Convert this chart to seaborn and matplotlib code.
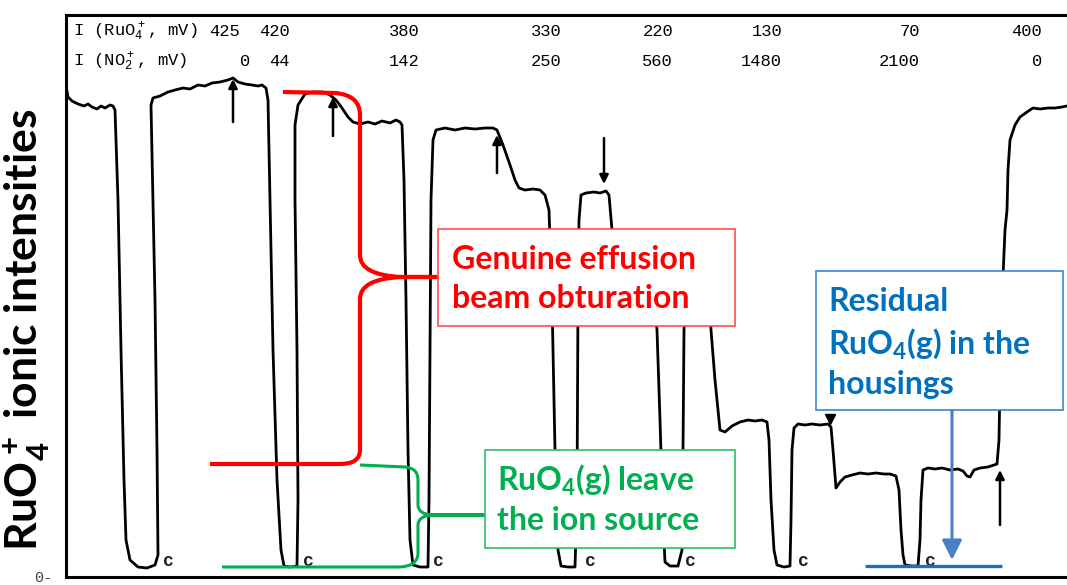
import numpy as np
import pandas as pd
import matplotlib
matplotlib.use("Agg")
import matplotlib.pyplot as plt
from matplotlib.patches import Rectangle, PathPatch
from matplotlib.path import Path
import seaborn as sns

# ---------------- data (time in chart units, intensity in arbitrary units) ----------------
time = [0, 2, 6, 12, 18, 22, 26, 31, 35, 39, 44, 47, 49, 52, 55, 58, 60, 64, 72, 81, 89, 92,
        91, 89, 86, 85, 87, 94, 102, 109, 117, 124, 132, 139, 146, 154, 162, 167, 172, 179, 186,
        192, 196, 200, 202, 204, 207, 211, 215, 218, 224, 231, 232, 231, 229, 229, 232, 239, 247,
        257, 264, 270, 276, 282, 287, 294, 302, 309, 316, 324, 330, 334, 336, 338, 340, 342, 344,
        347, 354, 362, 363, 364, 365, 367, 370, 379, 389, 399, 409, 419, 427, 431, 437, 444, 449,
        453, 459, 467, 474, 479, 483, 486, 489, 492, 495, 502, 509, 511, 512, 513, 515, 520, 528,
        534, 540, 543, 546, 549, 556, 574, 588, 591, 594, 597, 599, 604, 612, 616, 617, 618, 620,
        626, 636, 643, 645, 649, 654, 659, 666, 674, 682, 689, 696, 701, 703, 705, 708, 711, 718,
        724, 725, 726, 728, 732, 739, 746, 754, 762, 765, 767, 770, 774, 779, 786, 794, 802, 810,
        818, 824, 830, 833, 835, 837, 839, 846, 852, 854, 855, 857, 862, 869, 876, 884, 892, 897,
        901, 904, 908, 914, 922, 928, 931, 933, 934, 936, 939, 941, 942, 944, 949, 954, 961, 967,
        974, 982, 989, 996, 1001]
intensity = [492, 480, 476, 473, 471, 473, 470, 468, 471, 469, 472, 471, 467, 377, 227, 97, 37,
             17, 10, 9, 12, 22, 127, 277, 427, 472, 479, 481, 485, 487, 489, 488, 492, 491, 494,
             495, 497, 499, 495, 493, 492, 491, 492, 489, 477, 377, 227, 97, 27, 11, 10, 11, 77,
             227, 377, 452, 472, 483, 485, 485, 482, 477, 469, 460, 455, 453, 455, 453, 456, 454,
             457, 455, 452, 397, 277, 127, 37, 12, 10, 10, 77, 227, 377, 437, 447, 449, 447, 449,
             448, 449, 449, 447, 432, 412, 397, 389, 387, 388, 387, 382, 367, 277, 127, 27, 11,
             10, 10, 77, 277, 357, 382, 384, 385, 384, 386, 382, 347, 287, 279, 280, 277, 247,
             157, 57, 15, 11, 11, 27, 127, 247, 292, 302, 303, 299, 247, 197, 147, 145, 151, 155,
             157, 156, 157, 155, 137, 77, 27, 12, 10, 11, 57, 127, 149, 153, 152, 153, 152, 153,
             150, 127, 89, 95, 100, 102, 104, 103, 104, 103, 103, 101, 87, 47, 22, 12, 11, 11, 37,
             77, 107, 109, 108, 109, 107, 108, 106, 101, 100, 107, 109, 110, 112, 113, 137, 197,
             277, 347, 367, 407, 437, 452, 460, 465, 469, 468, 469, 469, 470, 471]

ruo4_mv = ["425", "420", "380", "330", "220", "130", "70", "400"]
no2_mv = ["0", "44", "142", "250", "560", "1480", "2100", "0"]
ruo4_label_t = [174, 224, 354, 496, 607, 717, 854, 976]   # right edge of each printed value
no2_label_t = [184, 224, 354, 496, 607, 716, 854, 976]

closure_t = [102, 242, 372, 524, 624, 737, 864]            # "c" marks (closures)
arrow_up = [(167, 455, 498), (267, 441, 480), (431, 404, 442), (934, 52, 107)]  # (t, tail, tip)
arrow_down = [(538, 439, 393)]
marker_down = [(764, 158)]

# ---------------- figure ----------------
sns.set_style("white")
plt.rcParams["font.family"] = ["Lato", "DejaVu Sans"]
plt.rcParams["mathtext.default"] = "regular"

fig = plt.figure(figsize=(10.67, 5.85), dpi=100)
ax = fig.add_axes([66 / 1067, 8 / 585, 1001 / 1067, 562 / 585])

df = pd.DataFrame({"time": time, "intensity": intensity})
sns.lineplot(data=df, x="time", y="intensity", sort=False, estimator=None,
             color="black", linewidth=2.0, ax=ax, zorder=2)

ax.set_xlim(0, 1001)
ax.set_ylim(0, 562)
ax.set_xticks([])
ax.set_yticks([0])
ax.set_yticklabels(["0-"], fontsize=11, color="#444444", family="Liberation Mono")
ax.tick_params(axis="y", length=0, pad=10)
ax.set_xlabel("")
ax.set_ylabel("RuO$_4^+$ ionic intensities", fontsize=32, fontweight="bold", color="black")
ax.yaxis.set_label_coords(-0.014, 0.44)
for side in ["left", "top", "bottom"]:
    ax.spines[side].set_visible(True)
    ax.spines[side].set_linewidth(2.2)
    ax.spines[side].set_color("black")
ax.spines["right"].set_visible(False)

# header texts
mono = dict(family="Liberation Mono", fontsize=12.3, color="#000000")
ax.text(7, 545, "I (RuO$_4^+$, mV)", ha="left", va="center", **mono)
ax.text(7, 515, "I (NO$_2^+$, mV)", ha="left", va="center", **mono)
for t, v in zip(ruo4_label_t, ruo4_mv):
    ax.text(t, 545, v, ha="right", va="center", **mono)
for t, v in zip(no2_label_t, no2_mv):
    ax.text(t, 515, v, ha="right", va="center", **mono)

# closure marks
for t in closure_t:
    ax.text(t, 15, "c", ha="center", va="center", family="Liberation Mono",
            fontsize=13, fontweight="bold", color="#222222")

# black arrows
for t, tail, tip in arrow_up + arrow_down:
    ax.annotate("", xy=(t, tip), xytext=(t, tail),
                arrowprops=dict(arrowstyle="-|>", color="black", lw=1.8,
                                mutation_scale=13, shrinkA=0, shrinkB=0), zorder=3)
for t, y in marker_down:
    ax.plot([t], [y], marker="v", color="black", markersize=7, zorder=3)

# red brace
red = "#ff0000"
verts = [(217, 485), (269, 484), (294, 482), (294, 462), (294, 322), (294, 302), (335, 300),
         (372, 300), (335, 300), (294, 298), (294, 278), (294, 127), (294, 113), (274, 113),
         (144, 113)]
codes = [Path.MOVETO, Path.LINETO, Path.CURVE3, Path.CURVE3, Path.LINETO, Path.CURVE3,
         Path.CURVE3, Path.LINETO, Path.LINETO, Path.CURVE3, Path.CURVE3, Path.LINETO,
         Path.CURVE3, Path.CURVE3, Path.LINETO]
ax.add_patch(PathPatch(Path(verts, codes), fill=False, edgecolor=red, lw=3.0, zorder=4,
                       capstyle="butt", joinstyle="round"))

# green brace
green = "#00b050"
verts = [(294, 112), (339, 110), (352, 109), (352, 97), (352, 72), (352, 63), (366, 62),
         (419, 62), (366, 62), (352, 61), (352, 52), (352, 24), (352, 11), (334, 10),
         (156, 10)]
ax.add_patch(PathPatch(Path(verts, codes), fill=False, edgecolor=green, lw=2.2, zorder=4,
                       capstyle="butt", joinstyle="round"))

# blue annotation
blue = "#0070c0"
ax.annotate("", xy=(886, 17), xytext=(886, 167),
            arrowprops=dict(arrowstyle="-|>", color="#4a7fc8", lw=2.2,
                            mutation_scale=30, shrinkA=0, shrinkB=0), zorder=4)
ax.plot([799, 936], [11, 11], color="#1f6fc0", lw=2.4, zorder=4, solid_capstyle="butt")

# boxes
ax.add_patch(Rectangle((372, 251), 297, 97, facecolor="white", edgecolor="#ff4d4d",
                       lw=1.2, zorder=5))
ax.add_patch(Rectangle((419, 29), 250, 98, facecolor="white", edgecolor="#33bb6a",
                       lw=1.2, zorder=5))
ax.add_patch(Rectangle((750, 167), 247, 139, facecolor="white", edgecolor="#3a86c8",
                       lw=1.2, zorder=5))

box_font = dict(fontsize=23, fontweight="bold", ha="left", va="center", zorder=6,
                linespacing=1.38)
ax.text(386, 298, "Genuine effusion\nbeam obturation", color=red, **box_font)
ax.text(431, 78, "RuO$_4$(g) leave\nthe ion source", color=green, **box_font)
ax.text(762, 234, "Residual\nRuO$_4$(g) in the\nhousings", color=blue, **box_font)

fig.savefig("out.png", dpi=100)
